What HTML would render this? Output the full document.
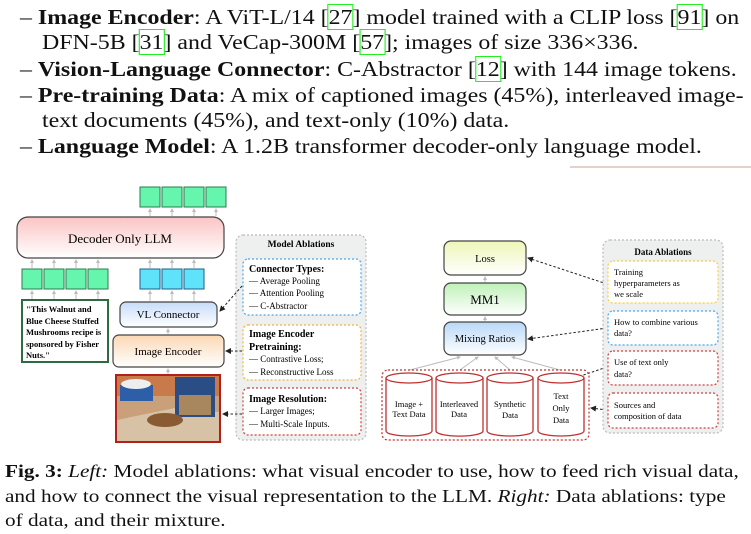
<!DOCTYPE html>
<html><head><meta charset="utf-8"><style>
html,body{margin:0;padding:0;background:#fff;}
body{width:751px;height:534px;position:relative;overflow:hidden;font-family:"Liberation Serif",serif;color:#111;}
.t{position:absolute;font-size:21px;white-space:nowrap;line-height:1;transform:scaleX(1.138);transform-origin:0 0;}
.c{position:absolute;font-size:18px;white-space:nowrap;line-height:1;left:5px;transform:scaleX(1.18);transform-origin:0 0;}
.r{outline:1px solid #2e2;outline-offset:0;}
svg{position:absolute;left:0;top:0;}
</style></head><body>
<div class="t" style="left:20px;top:7px">– <b>Image Encoder</b>: A ViT-L/14 [<span class="r">27</span>] model trained with a CLIP loss [<span class="r">91</span>] on</div>
<div class="t" style="left:42px;top:32px">DFN-5B [<span class="r">31</span>] and VeCap-300M [<span class="r">57</span>]; images of size 336×336.</div>
<div class="t" style="left:20px;top:59px">– <b>Vision-Language Connector</b>: C-Abstractor [<span class="r">12</span>] with 144 image tokens.</div>
<div class="t" style="left:20px;top:85px">– <b>Pre-training Data</b>: A mix of captioned images (45%), interleaved image-</div>
<div class="t" style="left:42px;top:110px">text documents (45%), and text-only (10%) data.</div>
<div class="t" style="left:20px;top:136px">– <b>Language Model</b>: A 1.2B transformer decoder-only language model.</div>

<div class="c" style="top:462px"><b>Fig. 3:</b> <i>Left:</i> Model ablations: what visual encoder to use, how to feed rich visual data,</div>
<div class="c" style="top:487px">and how to connect the visual representation to the LLM. <i>Right:</i> Data ablations: type</div>
<div class="c" style="top:511px">of data, and their mixture.</div>

<svg width="751" height="534" viewBox="0 0 751 534" font-family="Liberation Serif, serif">
<defs>
<linearGradient id="gp" x1="0" y1="0" x2="0" y2="1"><stop offset="0" stop-color="#fbc4c4"/><stop offset="1" stop-color="#fff"/></linearGradient>
<linearGradient id="gb" x1="0" y1="0" x2="0" y2="1"><stop offset="0" stop-color="#c6dcf8"/><stop offset="1" stop-color="#fff"/></linearGradient>
<linearGradient id="go" x1="0" y1="0" x2="0" y2="1"><stop offset="0" stop-color="#fbd8b4"/><stop offset="1" stop-color="#fff"/></linearGradient>
<linearGradient id="gy" x1="0" y1="0" x2="0" y2="1"><stop offset="0" stop-color="#eef6b8"/><stop offset="1" stop-color="#fff"/></linearGradient>
<linearGradient id="gg" x1="0" y1="0" x2="0" y2="1"><stop offset="0" stop-color="#bff0b8"/><stop offset="1" stop-color="#fff"/></linearGradient>
<linearGradient id="gb2" x1="0" y1="0" x2="0" y2="1"><stop offset="0" stop-color="#b8d8f8"/><stop offset="1" stop-color="#fff"/></linearGradient>
<marker id="ah" markerWidth="6" markerHeight="6" refX="5" refY="3" orient="auto"><path d="M0,0 L6,3 L0,6 z" fill="#222"/></marker>
<marker id="ag" markerWidth="4" markerHeight="4" refX="3" refY="2" orient="auto"><path d="M0,0 L4,2 L0,4 z" fill="#bbb"/></marker>
</defs>
<line x1="570" y1="167" x2="751" y2="167" stroke="#c9a58c" stroke-width="1"/>
<g stroke="#bbb" stroke-width="1" marker-end="url(#ag)">
<line x1="150" y1="216" x2="150" y2="209"/><line x1="172" y1="216" x2="172" y2="209"/><line x1="194" y1="216" x2="194" y2="209"/><line x1="216" y1="216" x2="216" y2="209"/>
<line x1="32" y1="268" x2="32" y2="260"/><line x1="54" y1="268" x2="54" y2="260"/><line x1="76" y1="268" x2="76" y2="260"/><line x1="98" y1="268" x2="98" y2="260"/>
<line x1="150" y1="268" x2="150" y2="260"/><line x1="172" y1="268" x2="172" y2="260"/><line x1="194" y1="268" x2="194" y2="260"/>
<line x1="32" y1="299" x2="32" y2="291"/><line x1="54" y1="299" x2="54" y2="291"/><line x1="76" y1="299" x2="76" y2="291"/><line x1="98" y1="299" x2="98" y2="291"/>
<line x1="150" y1="301" x2="150" y2="291"/><line x1="172" y1="301" x2="172" y2="291"/><line x1="194" y1="301" x2="194" y2="291"/>
<line x1="168" y1="334" x2="168" y2="329"/><line x1="168" y1="374" x2="168" y2="369"/>
<line x1="485" y1="282" x2="485" y2="277"/><line x1="485" y1="321" x2="485" y2="317"/>
<line x1="410" y1="370" x2="460" y2="357"/><line x1="460" y1="370" x2="478" y2="357"/><line x1="510" y1="370" x2="495" y2="357"/><line x1="560" y1="370" x2="512" y2="357"/>
</g>
<g fill="#66f5ad" stroke="#2f7a4e" stroke-width="1">
<rect x="140" y="187" width="20" height="20"/><rect x="162" y="187" width="20" height="20"/><rect x="184" y="187" width="20" height="20"/><rect x="206" y="187" width="20" height="20"/>
<rect x="22" y="269" width="20" height="20"/><rect x="44" y="269" width="20" height="20"/><rect x="66" y="269" width="20" height="20"/><rect x="88" y="269" width="20" height="20"/>
</g>
<g fill="#5fe3fa" stroke="#1f5e8a" stroke-width="1">
<rect x="140" y="269" width="20" height="20"/><rect x="162" y="269" width="20" height="20"/><rect x="184" y="269" width="20" height="20"/>
</g>
<rect x="17" y="217" width="207" height="41" rx="11" fill="url(#gp)" stroke="#444" stroke-width="1.2"/>
<text x="120" y="243" font-size="13" text-anchor="middle">Decoder Only LLM</text>
<rect x="22" y="300" width="86" height="62" fill="#fff" stroke="#2e6b45" stroke-width="2"/>
<g font-size="8.5" font-weight="bold"><text x="26" y="312">"This Walnut and</text><text x="26" y="324">Blue Cheese Stuffed</text><text x="26" y="335">Mushrooms recipe is</text><text x="26" y="347">sponsored by Fisher</text><text x="26" y="358">Nuts."</text></g>
<rect x="120" y="302" width="97" height="25" rx="6" fill="url(#gb)" stroke="#444" stroke-width="1.2"/>
<text x="168" y="318" font-size="11" text-anchor="middle">VL Connector</text>
<rect x="113" y="335" width="111" height="32" rx="6" fill="url(#go)" stroke="#444" stroke-width="1.2"/>
<text x="168" y="355" font-size="11" text-anchor="middle">Image Encoder</text>
<rect x="116" y="375" width="104" height="67" fill="#c9a07a" stroke="#b3201c" stroke-width="2"/>
<rect x="117" y="376" width="102" height="20" fill="#c97a4a"/>
<path d="M117,420 L175,408 L219,412 L219,441 L117,441z" fill="#d7c2a6"/>
<rect x="120" y="385" width="33" height="16" fill="#2d5fa8"/>
<ellipse cx="136" cy="384" rx="15" ry="5" fill="#eee"/>
<rect x="175" y="377" width="40" height="40" fill="#2b4d86"/>
<rect x="179" y="395" width="32" height="20" fill="#a8865e"/>
<ellipse cx="165" cy="420" rx="18" ry="7" fill="#8a5a33"/>
<rect x="236" y="235" width="130" height="205" rx="7" fill="#eef0ef" stroke="#bbb" stroke-width="1.2" stroke-dasharray="2,2"/>
<text x="301" y="247" font-size="9.5" font-weight="bold" text-anchor="middle">Model Ablations</text>
<rect x="243" y="259" width="118" height="56" rx="5" fill="#fff" stroke="#4aa8f0" stroke-width="1.2" stroke-dasharray="2,2"/>
<g font-size="10"><text x="249" y="272" font-weight="bold">Connector Types:</text><text x="249" y="284" font-size="9">— Average Pooling</text><text x="249" y="296" font-size="9">— Attention Pooling</text><text x="249" y="309" font-size="9">— C-Abstractor</text></g>
<rect x="243" y="325" width="118" height="55" rx="5" fill="#fff" stroke="#f5b040" stroke-width="1.2" stroke-dasharray="2,2"/>
<g font-size="10"><text x="249" y="337" font-weight="bold">Image Encoder</text><text x="249" y="350" font-weight="bold">Pretraining:</text><text x="249" y="362" font-size="9">— Contrastive Loss;</text><text x="249" y="375" font-size="9">— Reconstructive Loss</text></g>
<rect x="243" y="388" width="118" height="47" rx="5" fill="#fff" stroke="#d04040" stroke-width="1.2" stroke-dasharray="2,2"/>
<g font-size="10"><text x="249" y="402" font-weight="bold">Image Resolution:</text><text x="249" y="414" font-size="9">— Larger Images;</text><text x="249" y="427" font-size="9">— Multi-Scale Inputs.</text></g>
<g stroke="#222" stroke-width="1" stroke-dasharray="2.5,2" fill="none" marker-end="url(#ah)">
<line x1="242" y1="286" x2="220" y2="311"/><line x1="242" y1="351" x2="226" y2="351"/><line x1="242" y1="414" x2="223" y2="414"/>
<line x1="607" y1="284" x2="528" y2="258"/><line x1="607" y1="328" x2="528" y2="339"/><line x1="607" y1="367" x2="566" y2="381"/><line x1="607" y1="410" x2="591" y2="408"/>
</g>
<rect x="444" y="241" width="82" height="34" rx="7" fill="url(#gy)" stroke="#444" stroke-width="1.2"/>
<text x="485" y="262" font-size="10.5" text-anchor="middle">Loss</text>
<rect x="444" y="283" width="82" height="32" rx="7" fill="url(#gg)" stroke="#444" stroke-width="1.2"/>
<text x="485" y="304" font-size="13" text-anchor="middle">MM1</text>
<rect x="444" y="322" width="82" height="33" rx="7" fill="url(#gb2)" stroke="#444" stroke-width="1.2"/>
<text x="485" y="342" font-size="10.5" text-anchor="middle">Mixing Ratios</text>
<rect x="382" y="370" width="207" height="70" rx="6" fill="none" stroke="#c03030" stroke-width="1.2" stroke-dasharray="2,2"/>
<g fill="#fff" stroke="#c03030" stroke-width="1.3">
<path d="M386,378 v53 a23,5 0 0 0 46,0 v-53"/><ellipse cx="409" cy="378" rx="23" ry="5"/>
<path d="M436,378 v53 a23,5 0 0 0 47,0 v-53"/><ellipse cx="459.5" cy="378" rx="23.5" ry="5"/>
<path d="M487,378 v53 a23,5 0 0 0 46,0 v-53"/><ellipse cx="510" cy="378" rx="23" ry="5"/>
<path d="M538,378 v53 a23,5 0 0 0 46,0 v-53"/><ellipse cx="561" cy="378" rx="23" ry="5"/>
</g>
<g font-size="8.5" text-anchor="middle">
<text x="409" y="407">Image +</text><text x="409" y="417">Text Data</text>
<text x="459" y="407">Interleaved</text><text x="459" y="417">Data</text>
<text x="510" y="407">Synthetic</text><text x="510" y="418">Data</text>
<text x="561" y="399">Text</text><text x="561" y="411">Only</text><text x="561" y="423">Data</text>
</g>
<rect x="603" y="240" width="120" height="193" rx="7" fill="#eef0ef" stroke="#bbb" stroke-width="1.2" stroke-dasharray="2,2"/>
<text x="663" y="255" font-size="9" font-weight="bold" text-anchor="middle">Data Ablations</text>
<rect x="608" y="261" width="110" height="42" rx="5" fill="#fff" stroke="#f5d040" stroke-width="1.2" stroke-dasharray="2,2"/>
<g font-size="8.5"><text x="614" y="275">Training</text><text x="614" y="286">hyperparameters as</text><text x="614" y="297">we scale</text></g>
<rect x="608" y="311" width="110" height="34" rx="5" fill="#fff" stroke="#4aa8f0" stroke-width="1.2" stroke-dasharray="2,2"/>
<g font-size="8.5"><text x="614" y="325">How to combine various</text><text x="614" y="336">data?</text></g>
<rect x="608" y="351" width="110" height="34" rx="5" fill="#fff" stroke="#d04040" stroke-width="1.2" stroke-dasharray="2,2"/>
<g font-size="8.5"><text x="614" y="365">Use of text only</text><text x="614" y="377">data?</text></g>
<rect x="608" y="393" width="110" height="35" rx="5" fill="#fff" stroke="#d04040" stroke-width="1.2" stroke-dasharray="2,2"/>
<g font-size="8.5"><text x="614" y="408">Sources and</text><text x="614" y="419">composition of data</text></g>
</svg>
</body></html>
